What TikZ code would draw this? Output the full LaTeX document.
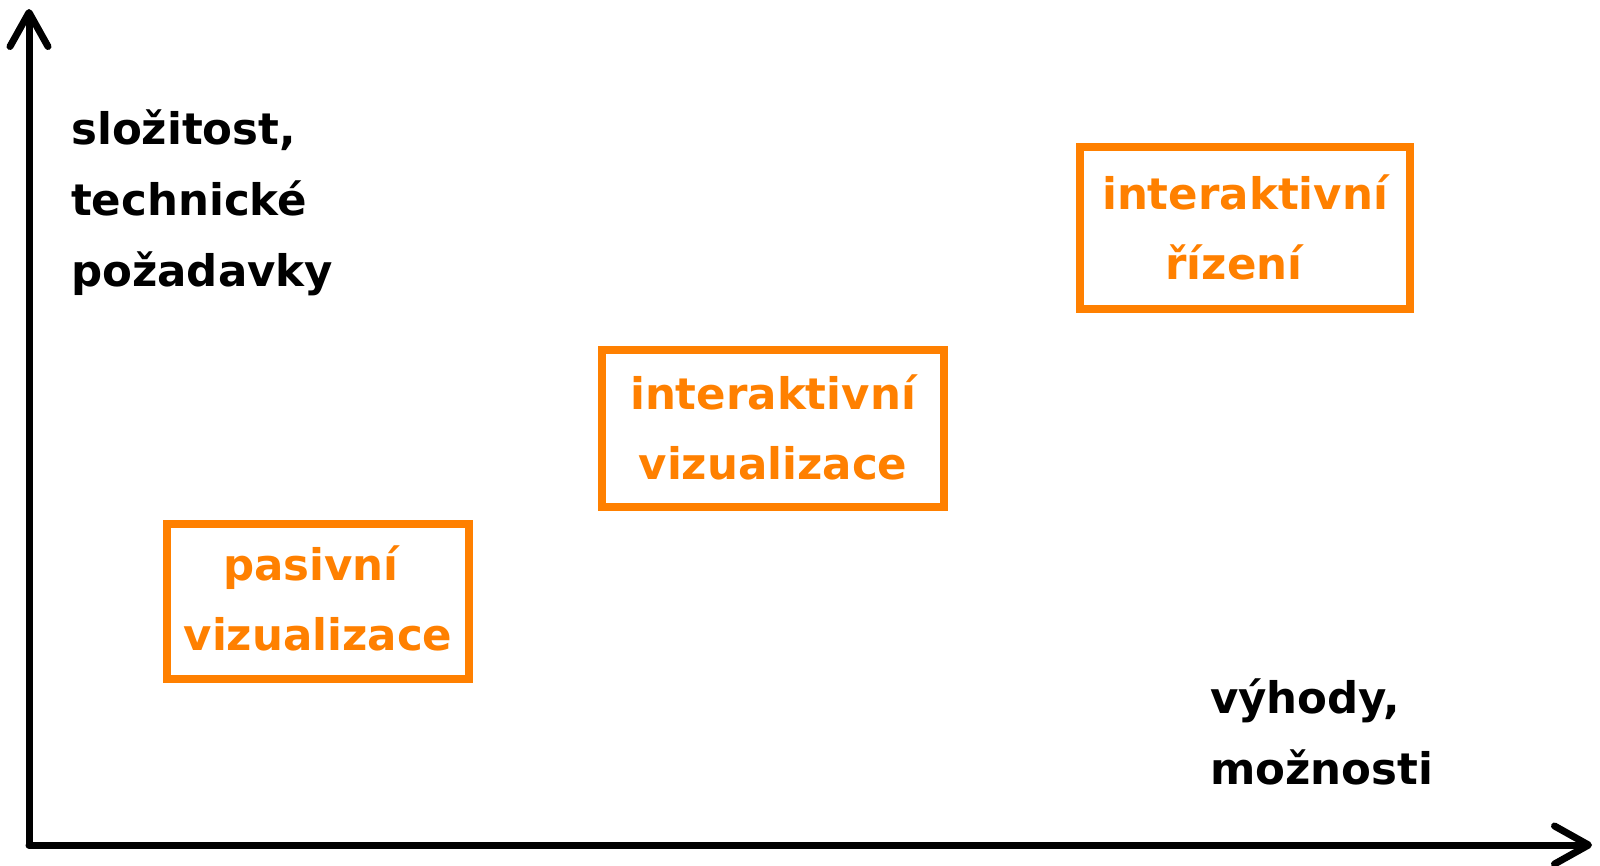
\documentclass[tikz,border=0pt]{standalone}
\usepackage{fontspec}
\setmainfont{DejaVu Sans}
\usetikzlibrary{arrows.meta}
\definecolor{boxorange}{RGB}{255,128,0}
\tikzset{
  axis/.style={line width=7pt, line cap=round, line join=round, -{Straight Barb[length=34pt,width=38pt,round]}},
  obox/.style={draw=boxorange, line width=7.5pt, text=boxorange, align=center, font=\bfseries\fontsize{43.5}{70}\selectfont, inner sep=0pt},
  blabel/.style={text=black, align=left, font=\bfseries\fontsize{43.5}{71}\selectfont, inner sep=0pt, anchor=base west}
}
\begin{document}
\begin{tikzpicture}[x=1pt,y=-1pt]
\useasboundingbox (0,0) rectangle (1600,865);
\coordinate (O) at (29,845);
\coordinate (Ytop) at (29,9);
\coordinate (Xend) at (1592,845);
\draw[axis] (O) -- (Ytop);
\draw[axis] (O) -- (Xend);
\node[obox, minimum width=302pt, minimum height=155pt] (b1) at (318,601.5) {\raisebox{6pt}{pasivní\hspace{14pt}}\\\raisebox{6pt}{vizualizace}};
\node[obox, minimum width=342pt, minimum height=157pt] (b2) at (773,428.5) {\raisebox{2pt}{interaktivní}\\\raisebox{2pt}{vizualizace}};
\node[obox, minimum width=330pt, minimum height=162pt] (b3) at (1245,228) {\raisebox{2pt}{interaktivní}\\\raisebox{2pt}{řízení\hspace{22pt}}};
\node[blabel] (ylab) at (71,286) {složitost,\\technické\\požadavky};
\node[blabel] (xlab) at (1210,784) {výhody,\\možnosti};
\end{tikzpicture}
\end{document}
